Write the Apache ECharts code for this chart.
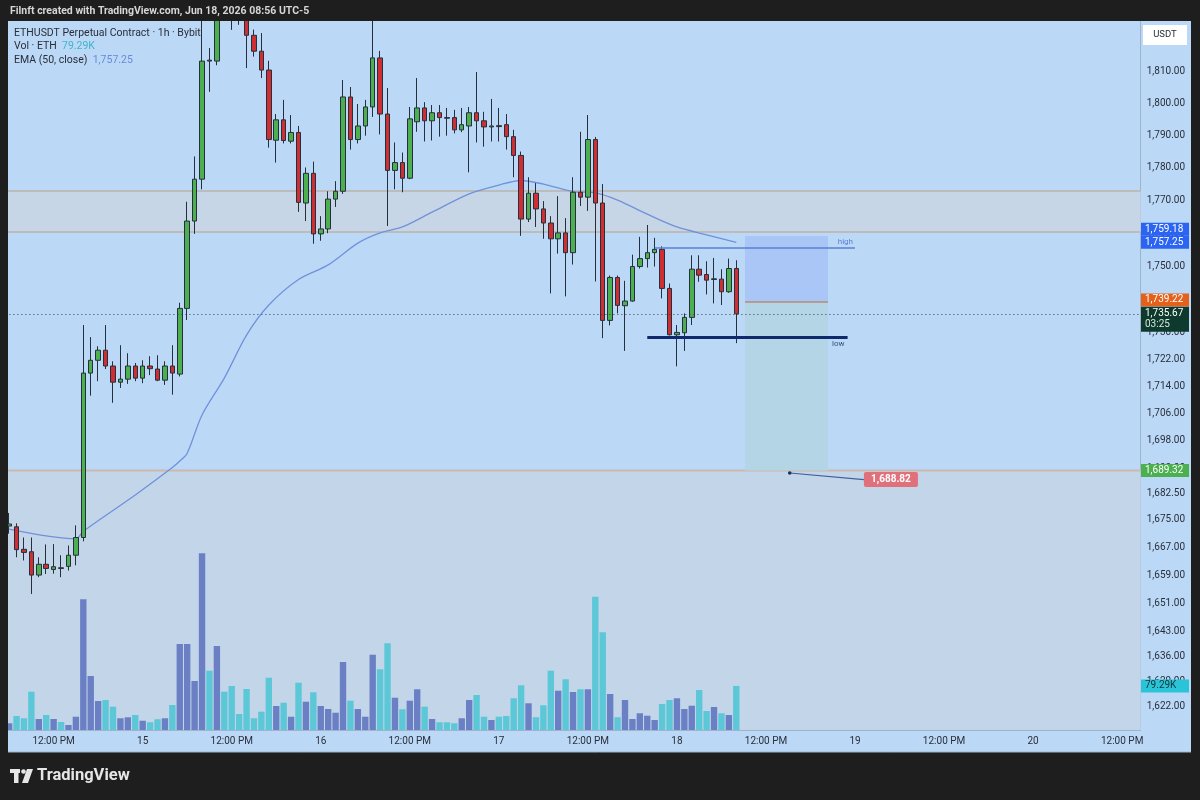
<!DOCTYPE html>
<html>
<head>
<meta charset="utf-8">
<script src="https://cdn.jsdelivr.net/npm/echarts@6/dist/echarts.min.js"></script>
<style>
html, body { margin: 0; padding: 0; background: #1e1e1e; }
#chart { width: 1200px; height: 800px; }
</style>
</head>
<body>
<div id="chart"></div>
<script>
// ETHUSDT 1h, Bybit - from Jun 14 06:00 to Jun 18 08:00
var START_DAY = 14, START_HOUR = 6, SLOT_COUNT = 153;

// [open, close, low, high]
var candles = [
	[1673.2, 1673.8, 1671.0, 1677.0], [1673.0, 1666.4, 1664.2, 1674.0], [1666.5, 1665.6, 1663.3, 1669.9],
	[1665.8, 1659.1, 1653.7, 1669.9], [1659.1, 1662.2, 1658.5, 1664.2], [1662.2, 1661.0, 1659.4, 1667.9],
	[1660.7, 1661.5, 1659.5, 1668.0], [1661.2, 1661.0, 1658.5, 1664.8], [1661.6, 1664.8, 1660.4, 1667.6],
	[1664.8, 1669.9, 1661.9, 1673.4], [1669.9, 1718.0, 1668.8, 1732.3], [1718.0, 1721.8, 1711.3, 1728.7],
	[1721.8, 1724.8, 1715.6, 1726.0], [1724.8, 1720.1, 1719.2, 1732.3], [1720.1, 1715.3, 1709.2, 1721.5],
	[1715.3, 1716.2, 1713.6, 1726.3], [1716.2, 1720.1, 1714.8, 1723.9], [1720.1, 1716.5, 1715.6, 1721.0],
	[1716.5, 1720.1, 1715.0, 1721.8], [1720.1, 1719.3, 1717.4, 1723.0], [1719.2, 1715.9, 1715.6, 1723.3],
	[1715.9, 1720.1, 1714.5, 1721.5], [1720.1, 1718.0, 1711.6, 1726.3], [1717.7, 1737.3, 1717.0, 1739.0],
	[1737.3, 1763.7, 1733.8, 1769.6], [1763.7, 1776.5, 1759.8, 1783.5], [1776.5, 1813.1, 1773.4, 1830.0],
	[1813.4, 1813.1, 1803.5, 1817.2], [1813.1, 1831.0, 1811.8, 1834.0], [1831.0, 1830.0, 1827.0, 1838.0],
	[1830.0, 1828.5, 1822.9, 1835.0], [1828.5, 1828.0, 1824.5, 1832.0], [1828.0, 1821.2, 1810.9, 1830.0],
	[1821.2, 1816.2, 1814.5, 1823.0], [1816.2, 1810.3, 1807.8, 1821.9], [1810.3, 1788.7, 1786.2, 1813.2],
	[1788.5, 1794.8, 1781.6, 1796.6], [1794.8, 1788.4, 1787.5, 1801.0], [1788.2, 1790.9, 1787.5, 1796.3],
	[1790.9, 1769.4, 1766.5, 1792.9], [1769.2, 1778.3, 1763.7, 1780.1], [1778.3, 1759.8, 1756.8, 1781.9],
	[1759.8, 1761.3, 1757.7, 1765.2], [1761.3, 1770.4, 1760.0, 1772.8], [1770.4, 1772.8, 1768.0, 1775.9],
	[1772.8, 1801.9, 1772.0, 1807.2], [1801.9, 1788.7, 1785.6, 1805.0], [1788.7, 1792.9, 1787.5, 1799.7],
	[1792.9, 1798.8, 1789.9, 1801.0], [1798.8, 1814.1, 1795.7, 1826.5], [1814.1, 1796.6, 1790.3, 1816.3],
	[1796.6, 1779.2, 1762.2, 1804.7], [1779.2, 1781.6, 1773.4, 1787.8], [1781.6, 1776.8, 1772.5, 1784.7],
	[1776.8, 1795.1, 1776.5, 1798.8], [1794.2, 1798.5, 1791.1, 1807.8], [1798.5, 1794.5, 1788.1, 1800.3],
	[1794.5, 1797.0, 1788.4, 1799.4], [1797.0, 1795.5, 1789.6, 1799.4], [1795.5, 1795.3, 1789.9, 1798.5],
	[1795.5, 1791.7, 1790.6, 1797.9], [1791.7, 1793.3, 1791.0, 1798.5], [1792.9, 1797.0, 1778.6, 1798.8],
	[1797.0, 1794.5, 1787.8, 1809.7], [1794.5, 1792.6, 1786.5, 1797.3], [1792.6, 1792.9, 1788.1, 1801.3],
	[1793.0, 1792.7, 1788.1, 1798.5], [1793.3, 1789.6, 1785.6, 1796.6], [1789.6, 1783.8, 1777.1, 1791.7],
	[1783.8, 1764.3, 1759.2, 1785.0], [1764.3, 1772.2, 1763.4, 1777.1], [1772.2, 1767.4, 1761.9, 1775.3],
	[1767.4, 1763.1, 1758.3, 1769.8], [1763.1, 1758.3, 1741.8, 1765.2], [1758.3, 1760.1, 1753.8, 1771.3],
	[1760.1, 1754.1, 1740.9, 1764.6], [1754.1, 1772.5, 1750.5, 1777.1], [1772.5, 1771.0, 1768.3, 1791.1],
	[1771.0, 1788.7, 1766.8, 1796.3], [1788.7, 1769.2, 1745.4, 1789.5], [1769.2, 1733.7, 1728.4, 1775.0],
	[1733.7, 1746.6, 1732.2, 1747.2], [1746.6, 1738.2, 1735.8, 1747.2], [1738.1, 1739.5, 1724.6, 1745.6],
	[1739.5, 1749.9, 1739.3, 1753.5], [1749.9, 1752.3, 1749.3, 1758.9], [1752.3, 1754.1, 1749.6, 1762.5],
	[1754.1, 1755.1, 1749.9, 1758.6], [1755.1, 1743.3, 1740.3, 1756.0], [1743.3, 1729.4, 1729.2, 1744.8],
	[1729.4, 1730.1, 1720.0, 1732.3], [1730.0, 1734.6, 1724.6, 1735.8], [1734.6, 1749.1, 1732.3, 1753.3],
	[1749.1, 1747.3, 1745.3, 1753.3], [1747.5, 1745.8, 1741.5, 1751.5], [1746.0, 1746.2, 1738.8, 1752.5],
	[1746.1, 1742.3, 1738.3, 1749.1], [1742.3, 1749.3, 1742.0, 1752.3], [1749.3, 1735.67, 1726.9, 1751.8]
];

// volume, thousands of ETH
var volumes = [
	12.1, 25.2, 21.1, 68.9, 19.8, 27, 19.8, 14.4, 9, 23.9,
	235.3, 97.2, 52.2, 54, 41.9, 21.1, 22.9, 27, 16.7, 13.9,
	19.3, 21.1, 45, 154.8, 154.8, 88.2, 318.1, 106.7, 151.2, 68.9,
	79.2, 28.8, 73.8, 21.1, 32.9, 94.1, 43.2, 49.1, 23.9, 85.1,
	50.9, 67.9, 43.2, 37.8, 31.1, 122.4, 52.7, 37.8, 23.9, 135.5,
	109.3, 156.1, 58.1, 37.3, 52.7, 73.3, 41.9, 19.8, 13.9, 13.9,
	12.1, 21.1, 54, 63, 23.9, 18, 23.9, 25.2, 57.1, 80.5,
	48.1, 22.9, 44.5, 106.7, 70.7, 91.3, 68.4, 73.3, 73.3, 239.9,
	175.9, 64.8, 22.9, 54, 19.8, 30.1, 25.7, 18, 46.8, 54,
	57.1, 37.8, 43.7, 72, 34.2, 41.4, 30.1, 27, 79.29
];

// EMA(50): [candle index, value]
var emaPoints = [
	[0, 1672.3], [9, 1669.5], [10, 1671.7], [17, 1682.2], [22, 1690.2], [23, 1692.1], [24, 1694.4],
	[26, 1705.6], [29, 1716.5], [32, 1729.3], [35, 1738.3], [39, 1746.0], [43, 1750.4],
	[47, 1757.0], [50, 1760.1], [53, 1761.9], [57, 1766.4], [62, 1772.0], [66, 1774.7],
	[69, 1776.1], [72, 1775.0], [76, 1772.7], [79, 1772.3], [82, 1770.1], [86, 1765.8],
	[90, 1761.9], [94, 1759.5], [98, 1757.25]
];

var priceTicks = [1810, 1800, 1790, 1780, 1770, 1760, 1750, 1730, 1722, 1714, 1706, 1698,
	1690, 1682.5, 1675, 1667, 1659, 1651, 1643, 1636, 1629, 1622];

var priceMin = 1615.3, priceMax = 1825.7, volMax = 1276;
var lastPrice = 1735.67, emaLast = 1757.25;
var bandZone = [1772.9, 1760.4];
var lowerZoneTop = 1689.32;
// short position tool: [from index, to index, stop, entry, target]
var shortPos = [99.18, 110.36, 1759.18, 1739.22, 1689.32];
var highLine = [87, 114, 1755.5];
var lowLine = [86, 113, 1728.7];
var note = { from: [105.2, 1688.6], box: [115.2, 1686.7], text: '1,688.82' };

var FONT = 'Roboto, "Noto Sans", sans-serif';

var hours = [];
for (var k = 0; k < SLOT_COUNT; k++) {
	var t = START_HOUR + k;
	hours.push((START_DAY + Math.floor(t / 24)) + '-' + (t % 24));
}

var emaData = [];
for (var i = 0; i < candles.length; i++) emaData.push(null);
emaPoints.forEach(function(p) { emaData[p[0]] = p[1]; });

var volData = volumes.map(function(v, i) {
	var down = candles[i][1] < candles[i][0];
	return { value: v, itemStyle: { color: down ? '#5cc7d6' : '#6b80c4' } };
});

function fmtPrice(v) {
	return Number(v).toLocaleString('en-US', { minimumFractionDigits: 2, maximumFractionDigits: 2 });
}

var chart = echarts.init(document.getElementById('chart'));

var gridBox = { left: 5.4, top: 21, width: 1135.3, height: 709, outerBoundsMode: 'none' };

option = {
	backgroundColor: '#1e1e1e',
	animation: false,
	textStyle: { fontFamily: FONT },
	grid: [
		echarts.util.extend({}, gridBox),
		echarts.util.extend({}, gridBox)
	],
	xAxis: [{
		type: 'category',
		gridIndex: 0,
		data: hours,
		axisLine: { show: true, lineStyle: { color: '#9fb4ca', width: 1 } },
		axisTick: { show: false },
		splitLine: { show: false },
		axisLabel: {
			color: '#2a2e39',
			fontSize: 10,
			margin: 6,
			interval: function(index, value) {
				var h = value.split('-')[1];
				return h === '0' || h === '12';
			},
			formatter: function(value) {
				var p = value.split('-');
				return p[1] === '0' ? p[0] : '12:00 PM';
			}
		}
	}, {
		type: 'category',
		gridIndex: 1,
		data: hours,
		show: false
	}],
	yAxis: [{
		type: 'log',
		logBase: 10,
		gridIndex: 0,
		position: 'right',
		min: priceMin,
		max: priceMax,
		axisLine: { show: true, lineStyle: { color: '#9fb4ca', width: 1 } },
		axisTick: { show: false },
		splitLine: { show: false },
		axisLabel: {
			customValues: priceTicks,
			color: '#2a2e39',
			fontSize: 10,
			margin: 6,
			formatter: function(v) { return fmtPrice(v); }
		}
	}, {
		type: 'value',
		gridIndex: 1,
		min: 0,
		max: volMax,
		show: false,
		splitLine: { show: false }
	}],
	series: [{
		name: 'zones',
		type: 'custom',
		xAxisIndex: 0,
		yAxisIndex: 0,
		z: 1,
		silent: true,
		data: [[0, bandZone[0], bandZone[1], 1], [0, lowerZoneTop, priceMin, 0]],
		renderItem: function(params, api) {
			var cs = params.coordSys;
			var yTop = api.coord([0, api.value(1)])[1];
			var yBot = api.coord([0, api.value(2)])[1];
			var fills = ['#c6d6e6', '#c3d5e9'];
			var edges = ['#bcbcbc', '#cbb8ae'];
			var kids = [{
				type: 'rect',
				shape: { x: cs.x, y: yTop, width: cs.width, height: yBot - yTop },
				style: { fill: fills[params.dataIndex] }
			}, {
				type: 'line',
				shape: { x1: cs.x, y1: yTop, x2: cs.x + cs.width, y2: yTop },
				style: { stroke: edges[params.dataIndex], lineWidth: 2 }
			}];
			if (api.value(3)) {
				kids.push({
					type: 'line',
					shape: { x1: cs.x, y1: yBot, x2: cs.x + cs.width, y2: yBot },
					style: { stroke: edges[params.dataIndex], lineWidth: 2 }
				});
			}
			return { type: 'group', children: kids };
		}
	}, {
		name: 'Vol',
		type: 'bar',
		xAxisIndex: 1,
		yAxisIndex: 1,
		z: 2,
		barWidth: '86%',
		data: volData
	}, {
		name: 'position',
		type: 'custom',
		xAxisIndex: 0,
		yAxisIndex: 0,
		z: 2,
		silent: true,
		data: [shortPos],
		renderItem: function(params, api) {
			var bw = api.size([1, 0])[0];
			function xp(v) {
				var a = Math.floor(v);
				return api.coord([a, api.value(3)])[0] + (v - a) * bw;
			}
			var x0 = xp(api.value(0)), x1 = xp(api.value(1));
			var yStop = api.coord([0, api.value(2)])[1];
			var yEntry = api.coord([0, api.value(3)])[1];
			var yTarget = api.coord([0, api.value(4)])[1];
			return {
				type: 'group',
				children: [{
					type: 'rect',
					shape: { x: x0, y: yStop, width: x1 - x0, height: yEntry - yStop },
					style: { fill: '#a9c6f6' }
				}, {
					type: 'rect',
					shape: { x: x0, y: yEntry, width: x1 - x0, height: yTarget - yEntry },
					style: { fill: '#b3d5e5' }
				}, {
					type: 'line',
					shape: { x1: x0, y1: yEntry, x2: x1, y2: yEntry },
					style: { stroke: '#b98b76', lineWidth: 1.5 }
				}]
			};
		}
	}, {
		name: 'EMA',
		type: 'line',
		xAxisIndex: 0,
		yAxisIndex: 0,
		z: 3,
		data: emaData,
		connectNulls: true,
		smooth: 0.3,
		symbol: 'none',
		lineStyle: { color: '#7191da', width: 1.3 },
		markLine: {
			silent: true,
			symbol: ['none', 'none'],
			animation: false,
			data: [
				[{ coord: [highLine[0], highLine[2]] }, {
					coord: [highLine[1], highLine[2]],
					lineStyle: { color: '#5b7fd3', width: 1.5, type: 'solid' },
					label: { show: true, formatter: 'high', position: 'insideEndTop', color: '#5b7fd3', fontSize: 8, distance: 2 }
				}],
				[{ coord: [lowLine[0], lowLine[2]] }, {
					coord: [lowLine[1], lowLine[2]],
					lineStyle: { color: '#0e2a6c', width: 3, type: 'solid' },
					label: { show: true, formatter: 'low', position: 'insideEndBottom', color: '#34507f', fontSize: 8, distance: 3 }
				}],
				{
					yAxis: lastPrice,
					lineStyle: { color: '#2c3e4c', width: 1, type: [1, 3] },
					label: { show: false }
				}
			]
		}
	}, {
		name: 'ETHUSDT',
		type: 'candlestick',
		xAxisIndex: 0,
		yAxisIndex: 0,
		z: 4,
		barWidth: 5,
		clip: true,
		data: candles,
		itemStyle: {
			color: '#4caf50',
			color0: '#cf2f33',
			borderColor: '#25303c',
			borderColor0: '#25303c',
			borderWidth: 1
		}
	}]
};

chart.setOption(option);

function py(p) { return chart.convertToPixel({ yAxisIndex: 0 }, p); }
function px(v) {
	var a = Math.floor(v);
	var p0 = chart.convertToPixel({ xAxisIndex: 0 }, a);
	var p1 = chart.convertToPixel({ xAxisIndex: 0 }, a + 1);
	return p0 + (v - a) * (p1 - p0);
}

function tag(yc, fill, text, textColor, h) {
	h = h || 13;
	return [{
		type: 'rect', z: 60,
		shape: { x: 1141, y: yc - h / 2, width: 48, height: h },
		style: { fill: fill }
	}, {
		type: 'text', z: 61, x: 1145, y: yc,
		style: { text: text, fill: textColor, fontSize: 10, fontFamily: FONT, verticalAlign: 'middle' }
	}];
}

var els = [
	{ type: 'rect', z: -100, shape: { x: 8, y: 21, width: 1183, height: 731 }, style: { fill: '#bbd9f7' } },
	{ type: 'line', z: 50, shape: { x1: 8, y1: 752, x2: 1191, y2: 752 }, style: { stroke: '#9fb4ca', lineWidth: 1 } },
	{ type: 'rect', z: 100, shape: { x: 0, y: 0, width: 1200, height: 21 }, style: { fill: '#1e1e1e' } },
	{ type: 'rect', z: 100, shape: { x: 0, y: 0, width: 8, height: 800 }, style: { fill: '#1e1e1e' } },
	{ type: 'rect', z: 100, shape: { x: 1191, y: 0, width: 9, height: 800 }, style: { fill: '#1e1e1e' } },
	{ type: 'rect', z: 100, shape: { x: 0, y: 753, width: 1200, height: 47 }, style: { fill: '#1e1e1e' } },
	{
		type: 'text', z: 101, x: 10, y: 11,
		style: { text: 'Filnft created with TradingView.com, Jun 18, 2026 08:56 UTC-5', fill: '#d6d6d6', fontSize: 10.5, fontWeight: 'bold', fontFamily: FONT, verticalAlign: 'middle' }
	},
	{
		type: 'text', z: 101, x: 37, y: 776,
		style: { text: 'TradingView', fill: '#e6e6e6', fontSize: 16.5, fontWeight: 'bold', fontFamily: FONT, verticalAlign: 'middle' }
	},
	{ type: 'rect', z: 101, shape: { x: 10, y: 769, width: 10, height: 4 }, style: { fill: '#e6e6e6' } },
	{ type: 'rect', z: 101, shape: { x: 14, y: 769, width: 4.5, height: 14 }, style: { fill: '#e6e6e6' } },
	{ type: 'circle', z: 101, shape: { cx: 23.5, cy: 771.5, r: 2.3 }, style: { fill: '#e6e6e6' } },
	{ type: 'polygon', z: 101, shape: { points: [[27, 769], [33, 769], [28, 783], [22, 783]] }, style: { fill: '#e6e6e6' } },
	{
		type: 'text', z: 70, x: 14, y: 33,
		style: { text: 'ETHUSDT Perpetual Contract · 1h · Bybit', fill: '#2a2e39', fontSize: 10.5, fontFamily: FONT, verticalAlign: 'middle' }
	},
	{
		type: 'text', z: 70, x: 14, y: 46.5,
		style: {
			text: '{a|Vol · ETH}  {b|79.29K}', fontSize: 10.5, fontFamily: FONT, verticalAlign: 'middle',
			rich: { a: { fill: '#2a2e39', fontSize: 10.5, fontFamily: FONT }, b: { fill: '#3fb4c9', fontSize: 10.5, fontFamily: FONT } }
		}
	},
	{
		type: 'text', z: 70, x: 14, y: 60,
		style: {
			text: '{a|EMA (50, close)}  {b|1,757.25}', fontSize: 10.5, fontFamily: FONT, verticalAlign: 'middle',
			rich: { a: { fill: '#2a2e39', fontSize: 10.5, fontFamily: FONT }, b: { fill: '#6a8bd6', fontSize: 10.5, fontFamily: FONT } }
		}
	},
	{ type: 'rect', z: 60, shape: { x: 1143, y: 25, width: 44, height: 20 }, style: { fill: '#ffffff' } },
	{
		type: 'text', z: 61, x: 1165, y: 35,
		style: { text: 'USDT', fill: '#2a2e39', fontSize: 9.5, fontFamily: FONT, align: 'center', verticalAlign: 'middle' }
	}
];

var yEma = py(emaLast);
els = els.concat(tag(yEma - 13, '#2b63f2', fmtPrice(shortPos[2]), '#ffffff'));
els = els.concat(tag(yEma, '#2b63f2', fmtPrice(emaLast), '#ffffff'));
els = els.concat(tag(py(shortPos[3]) - 2, '#e4611c', fmtPrice(shortPos[3]), '#ffffff'));
var yLast = py(lastPrice);
els.push({ type: 'rect', z: 60, shape: { x: 1141, y: yLast - 7, width: 48, height: 25 }, style: { fill: '#0d3a2c' } });
els.push({ type: 'text', z: 61, x: 1145, y: yLast, style: { text: fmtPrice(lastPrice), fill: '#ffffff', fontSize: 10, fontFamily: FONT, verticalAlign: 'middle' } });
els.push({ type: 'text', z: 61, x: 1145, y: yLast + 11, style: { text: '03:25', fill: '#d8e4de', fontSize: 10, fontFamily: FONT, verticalAlign: 'middle' } });
els = els.concat(tag(py(lowerZoneTop), '#4caf50', fmtPrice(lowerZoneTop), '#ffffff'));
var yVol = chart.convertToPixel({ yAxisIndex: 1 }, volumes[volumes.length - 1]);
els = els.concat(tag(yVol, '#29c4d8', '79.29K', '#12343a'));

// price note
var nx0 = px(note.from[0]), ny0 = py(note.from[1]);
var nx1 = px(note.box[0]), ny1 = py(note.box[1]);
els.push({ type: 'line', z: 20, shape: { x1: nx0, y1: ny0, x2: nx1, y2: ny1 }, style: { stroke: '#3f5f9e', lineWidth: 1.2 } });
els.push({ type: 'circle', z: 21, shape: { cx: nx0, cy: ny0, r: 1.8 }, style: { fill: '#1d2f5a' } });
els.push({ type: 'rect', z: 21, shape: { x: nx1, y: ny1 - 7.5, width: 54, height: 15, r: 2 }, style: { fill: '#e0707a' } });
els.push({ type: 'text', z: 22, x: nx1 + 27, y: ny1, style: { text: note.text, fill: '#ffffff', fontSize: 10, fontWeight: 'bold', fontFamily: FONT, align: 'center', verticalAlign: 'middle' } });

chart.setOption({ graphic: { elements: els } });
</script>
</body>
</html>
